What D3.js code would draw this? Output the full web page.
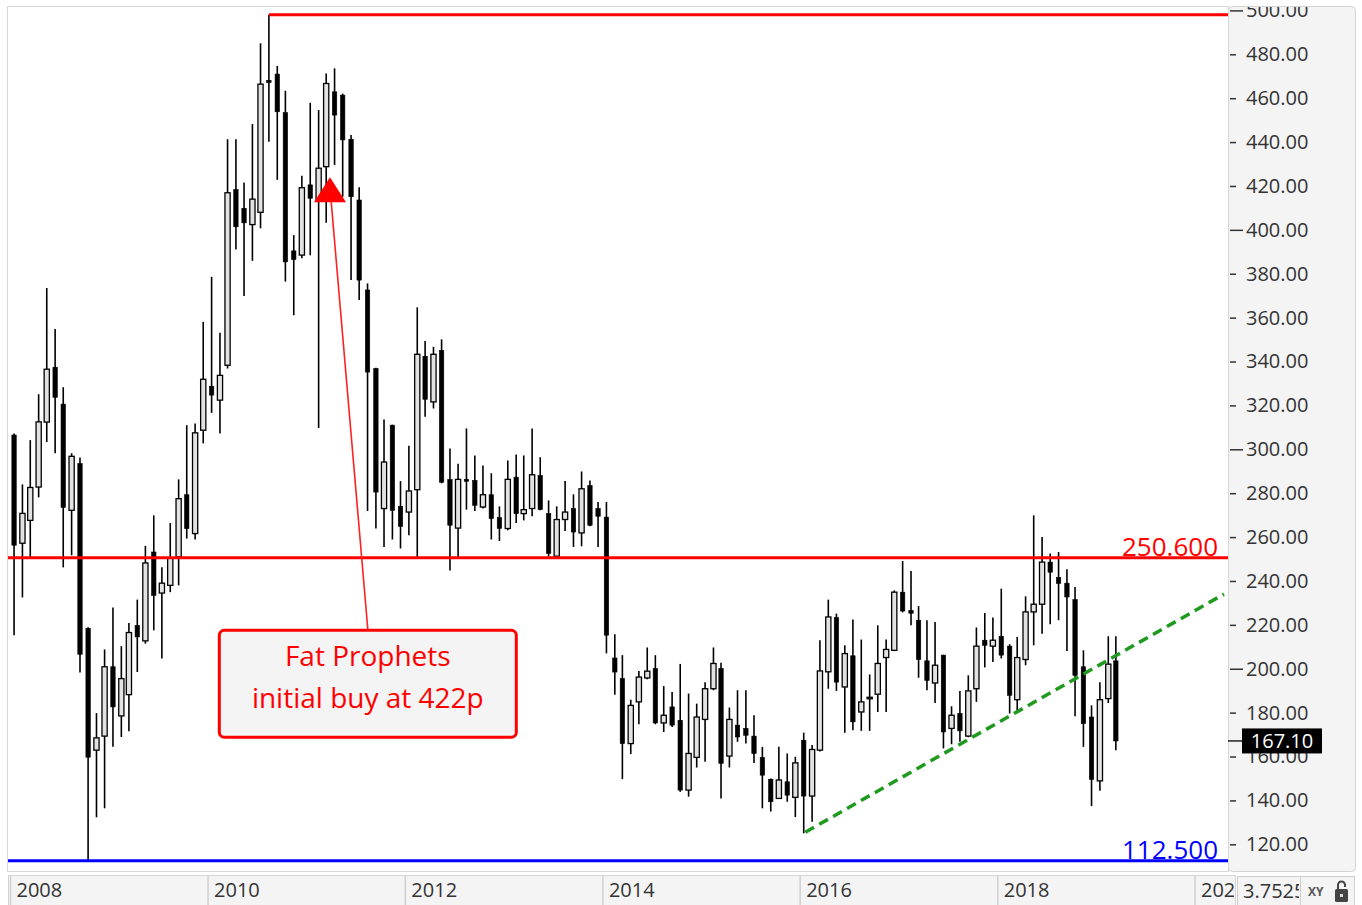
<!DOCTYPE html>
<html><head><meta charset="utf-8">
<script src="https://cdn.jsdelivr.net/npm/d3@7"></script>
<style>
html,body{margin:0;padding:0;background:#fff;}
svg{display:block;font-family:"Open Sans",sans-serif;}
</style></head><body>
<svg id="chart" width="1362" height="905"></svg>
<script>
// ---- data (monthly candles starting Jan 2008) ----
const firstYear = 2008, firstMonth = 0;
const opens = [
306.5,257.2,267.6,282.8,312.4,337.4,320.6,272.2,293.5,218.4,
162.9,169.3,200.9,178.5,188.2,219.8,212.7,253.2,234.5,238,
251,279.3,261.6,308.7,328.7,322.4,338.3,418.3,409.8,402.4,
408,468.1,471,453.4,390.4,388.5,420.5,413.6,428.8,462.9,
461.4,441.3,413.6,372.6,336.8,273,311,274,271.4,281.6,
342.4,321.6,345.1,286.3,264.1,286.3,285.8,273.7,279.3,268.9,
263.9,287.3,270.7,273,288.1,270.7,251.3,268,273,261.9,
283.5,273,269.1,204.9,195.5,165.9,184.9,195.8,200.1,175.3,
182.6,176.5,144.7,159.6,176.9,190.9,200.1,160.2,174.3,172.8,
169.3,159.6,149.6,140.9,148.5,141.4,167.4,142,162.9,198.6,
223.3,191.7,205.9,180.3,186.5,188.4,205.1,208.4,234.9,226.6,
222.1,203.6,193.5,206.2,172.8,179.6,169.3,190.9,213,210.3,
214.8,210.3,185.9,204.2,225.9,229.4,248.6,241.6,239,231.5,
200.9,178,148.9,186.4,203.6];
const highs = [
307.2,284,304.2,325.1,373.5,354.8,328.3,298.2,296.3,218.9,
179.8,208.8,227.9,210.3,220.9,231.5,256,269.9,246.3,266.4,
286.3,311,311.8,358.1,378.6,353.1,441.3,441.3,421.6,448.2,
485,498,474.7,463.4,397.6,424.7,457.9,454.6,471.3,473.6,
462.1,443.2,419.4,375.6,337.2,313.6,311.2,285.5,301.6,364.7,
349.4,346.7,350.1,300.4,293.4,309.5,297.2,292.6,289.1,274,
294.9,297.6,297.2,309.5,296.4,276.7,274,285.5,279.5,289.9,
285.8,276,276,215.7,206.2,185.9,199,209.7,206.2,192.1,
189.4,202.2,188.7,184.1,193.9,209.7,202.7,182.3,190.2,190.2,
178.8,164.4,150,164.4,161.4,159.9,170.9,165.2,213,231.5,
225.1,210.7,222.4,213.3,197.4,219.8,213.3,235.7,249.1,244.5,
228.6,222.1,221.3,206.4,182.9,189.9,197,218.8,225.4,223.3,
236.5,211.2,214.5,233,269.9,260,252.5,253.2,245.3,237.2,
208.4,183.3,193.9,214.8,214.8];
const lows = [
215.3,232.5,250.4,278.1,303.3,298.2,246.2,251.7,198.3,112.5,
132.3,136.4,164.4,168.9,171.5,198.5,211.4,217.5,204.7,234.9,
238,259.3,258.9,302.7,316.6,307.2,336.8,391.1,369.9,385.9,
400.7,440.2,422.8,376.4,361.1,387.1,388.4,309.7,403.2,429.6,
415.1,377.1,368,271.9,263.9,255.5,258.9,254.8,260.8,250.2,
314.8,318.6,284.5,244.8,250.2,272.5,271.9,273,258.9,258.2,
263.1,266.4,267.6,269.5,272.2,251,250.8,262.8,255.5,255.8,
264.9,255.5,207,188.2,149.7,161.1,174.7,195.2,174.7,171.2,
173.5,143.9,141.7,155,157.6,190.2,140.9,155,166.7,165.9,
157.1,136.4,134.9,140.6,139.4,132.4,125,130.3,162.3,190.9,
189.9,170.8,172,171.7,171.7,180.3,180.3,208,225.7,219.8,
195.9,190.2,184.4,163.7,165.6,166.7,168.8,184.9,200.6,203.1,
204.7,179.6,180.3,201.6,210.7,216,220.3,222.1,208.1,178.3,
164.4,137.4,144.4,184.4,162.9];
const closes = [
256.3,270.8,282.6,312.5,336.5,323.7,273.5,296.8,206.6,159.7,
168.5,200.9,182.6,195.5,216.5,214.5,248.2,233.4,239,250.4,
277.5,263.9,307.5,331.9,324.7,333.7,416.9,401.4,403.2,414,
466.4,467.1,453.8,385.4,386.5,419.2,414.4,428.1,466.7,452.3,
441,415.1,377.1,335.2,280.5,294.2,272.2,264.9,281,343.3,
322.8,343.3,285,265.4,286.3,285.4,274.5,279.3,268.4,263.9,
286.3,270.7,272.5,288.4,272.5,252.5,268,271.4,262.3,282,
265.4,269.5,215.3,198.5,165.9,183.3,196.2,198.9,175.3,178.8,
174.3,144.7,161.4,178,190.9,202.4,156.9,176.9,168.9,169.7,
161.4,151.5,139.4,149.3,142.4,157.1,142,163.2,199,223.6,
193.9,206.9,175.8,184.9,187,202.4,208.8,234.9,226.3,225.3,
204.2,194.7,201.6,171.2,178.8,171.7,189.9,210.3,210.7,213,
206.2,187.9,205.1,225.9,229.4,248.6,244,238.9,232.7,197,
175,149.6,185.9,202.1,167.1];

const yTicks = [120,140,160,180,200,220,240,260,280,300,320,340,360,380,400,420,440,460,480,500];
const yearTicks = [2008,2010,2012,2014,2016,2018,2020];
const lastPrice = 167.10;
const resistance = 250.6;
const support = 112.5;
const peakLevel = 498;
const trendPoints = [{date:"2016-01-22", value:125.5},{date:"2020-04-19", value:234}];
const noteLines = ["Fat Prophets","initial buy at 422p"];
const arrowTip = {date:"2011-03-30", value:424};
const noteAnchor = {date:"2011-08-17", value:218};
const zoomValue = "3.7525";

// ---- setup ----
const parse = d3.timeParse("%Y-%m-%d");
const svg = d3.select("#chart");
const P = {left:8, right:1228, top:8, bottom:870};
const x = d3.scaleTime().domain([new Date(2008,0,1), new Date(2020,0,1)]).range([10, 1194.5]);
const y = d3.scaleLinear().domain([120,480]).range([844.3,54.3]);

const candles = opens.map((o,i)=>({date:new Date(firstYear, firstMonth+i, 16), o, h:highs[i], l:lows[i], c:closes[i]}));

// backgrounds
svg.append("rect").attr("x",0).attr("y",0).attr("width",1362).attr("height",905).attr("fill","#fff");
svg.append("rect").attr("x",1228.5).attr("y",6.5).attr("width",127).attr("height",865)
  .attr("rx",4).attr("fill","#f4f4f4").attr("stroke","#d4d4d4");
svg.append("rect").attr("x",7.5).attr("y",6.5).attr("width",1221).attr("height",865)
  .attr("fill","#fff").attr("stroke","#d8d8d8");

const defs = svg.append("defs");
defs.append("clipPath").attr("id","plotclip").append("rect")
  .attr("x",P.left).attr("y",P.top).attr("width",P.right-P.left).attr("height",P.bottom-P.top);
defs.append("clipPath").attr("id","axisclip").append("rect")
  .attr("x",1229).attr("y",7).attr("width",127).attr("height",864);
defs.append("clipPath").attr("id","botclip").append("rect")
  .attr("x",8).attr("y",875).attr("width",1226).attr("height",30);
defs.append("clipPath").attr("id","zoomclip").append("rect")
  .attr("x",1238).attr("y",876).attr("width",61).attr("height",29);

const plot = svg.append("g").attr("clip-path","url(#plotclip)");

// candles
const cg = plot.append("g");
cg.selectAll("line.wick").data(candles).join("line").attr("class","wick")
  .attr("x1",d=>x(d.date)).attr("x2",d=>x(d.date))
  .attr("y1",d=>y(d.h)).attr("y2",d=>y(d.l))
  .attr("stroke","#000").attr("stroke-width",1.6);
cg.selectAll("rect.body").data(candles).join("rect").attr("class","body")
  .attr("x",d=>d.c>=d.o ? x(d.date)-2.6 : x(d.date)-2.2)
  .attr("width",d=>d.c>=d.o ? 5.2 : 4.4)
  .attr("y",d=>y(Math.max(d.o,d.c)))
  .attr("height",d=>Math.max(1.5, Math.abs(y(d.o)-y(d.c))))
  .attr("fill",d=>d.c>=d.o ? "#e2e2e2" : "#000")
  .attr("stroke","#000").attr("stroke-width",d=>d.c>=d.o?1.3:0.6);

// horizontal levels
plot.append("line").attr("x1",P.left).attr("x2",P.right).attr("y1",y(resistance)).attr("y2",y(resistance))
  .attr("stroke","#ff0000").attr("stroke-width",3);
plot.append("line").attr("x1",P.left).attr("x2",P.right).attr("y1",y(support)).attr("y2",y(support))
  .attr("stroke","#0000ff").attr("stroke-width",3);
const peakIdx = d3.maxIndex(highs);
plot.append("line").attr("x1",x(candles[peakIdx].date)).attr("x2",P.right)
  .attr("y1",y(peakLevel)).attr("y2",y(peakLevel)).attr("stroke","#ff0000").attr("stroke-width",3);

plot.append("text").attr("x",1218).attr("y",y(resistance)-2).attr("text-anchor","end")
  .attr("font-size",26).attr("fill","#ff0000").text(d3.format(".3f")(resistance));
plot.append("text").attr("x",1218).attr("y",y(support)-2).attr("text-anchor","end")
  .attr("font-size",26).attr("fill","#0000ff").text(d3.format(".3f")(support));

// trend line
const tp = trendPoints.map(p=>[x(parse(p.date)), y(p.value)]);
plot.append("path").attr("d",d3.line()(tp)).attr("stroke","#1f9a1f").attr("stroke-width",3.5)
  .attr("stroke-dasharray","10,6").attr("fill","none");

// annotation
const ax = x(parse(arrowTip.date)), ay = y(arrowTip.value);
const bx = x(parse(noteAnchor.date)), by = y(noteAnchor.value);
plot.append("line").attr("x1",bx).attr("y1",by).attr("x2",ax+1).attr("y2",ay+22)
  .attr("stroke","#ff2020").attr("stroke-width",1.6);
plot.append("path").attr("d",`M${ax},${ay} L${ax+16},${ay+25} L${ax-16},${ay+25} Z`).attr("fill","#ff0000");
plot.append("rect").attr("x",bx-148.5).attr("y",by+1).attr("width",297).attr("height",107).attr("rx",5)
  .attr("fill","#f4f4f4").attr("stroke","#ff0000").attr("stroke-width",3);
noteLines.forEach((t,i)=>{
  plot.append("text").attr("x",bx).attr("y",by+37+i*42).attr("text-anchor","middle")
    .attr("font-size",28).attr("fill","#ff0000").text(t);
});

// right axis (outer g clips in page coords, inner g is translated)
const yAxis = d3.axisRight(y).tickValues(yTicks).tickFormat(d3.format(".2f")).tickSize(6).tickPadding(11);
const ya = svg.append("g").attr("clip-path","url(#axisclip)")
  .append("g").attr("transform","translate(1230,0)").call(yAxis);
ya.select(".domain").remove();
ya.selectAll(".tick line").attr("stroke","#333").attr("stroke-width",1.5)
  .attr("x2",d=>d%100===0?13:6);
ya.selectAll(".tick text").attr("font-size",20).attr("fill","#333")
  .attr("font-family","'Open Sans',sans-serif").attr("x",16);

// last price marker
svg.append("line").attr("x1",1228).attr("x2",1242).attr("y1",y(lastPrice)).attr("y2",y(lastPrice))
  .attr("stroke","#222").attr("stroke-width",1.5);
svg.append("rect").attr("x",1242).attr("y",y(lastPrice)-12.5).attr("width",80).attr("height",25).attr("fill","#000");
svg.append("text").attr("x",1282).attr("y",y(lastPrice)+7).attr("text-anchor","middle")
  .attr("font-size",20).attr("fill","#fff").text(d3.format(".2f")(lastPrice));

// bottom axis
svg.append("rect").attr("x",8.5).attr("y",875.5).attr("width",1227).attr("height",30)
  .attr("fill","#f4f4f4").attr("stroke","#d4d4d4");
const xAxis = d3.axisBottom(x).tickValues(yearTicks.map(yr=>new Date(yr,0,1)))
  .tickFormat(d3.timeFormat("%Y")).tickSize(30).tickPadding(0);
const xa = svg.append("g").attr("clip-path","url(#botclip)")
  .append("g").attr("transform","translate(0,875)").call(xAxis);
xa.select(".domain").remove();
xa.selectAll(".tick line").attr("stroke","#d0d0d0").attr("stroke-width",1.5);
xa.selectAll(".tick text").attr("font-size",20).attr("fill","#333").attr("text-anchor","start")
  .attr("x",6).attr("y",22).attr("dy",0).attr("font-family","'Open Sans',sans-serif");

// bottom-right widgets
svg.append("rect").attr("x",1237.5).attr("y",876.5).attr("width",63).attr("height",30)
  .attr("fill","#f4f4f4").attr("stroke","#cfcfcf");
svg.append("text").attr("x",1243).attr("y",898).attr("font-size",20).attr("fill","#333")
  .attr("clip-path","url(#zoomclip)").text(zoomValue);
svg.append("rect").attr("x",1300.5).attr("y",876.5).attr("width",54).attr("height",30)
  .attr("fill","#f4f4f4").attr("stroke","#cfcfcf");
svg.append("text").attr("x",1308).attr("y",896).attr("font-size",12).attr("font-weight","bold")
  .attr("fill","#555").text("XY");
svg.append("rect").attr("x",1335).attr("y",889).attr("width",13).attr("height",13).attr("rx",1.5).attr("fill","#444");
svg.append("path").attr("d","M1338,889 V885 A3.5,3.5 0 0 1 1345,885 V887").attr("fill","none")
  .attr("stroke","#444").attr("stroke-width",2);
svg.append("rect").attr("x",1340).attr("y",894).attr("width",3).attr("height",3).attr("fill","#ddd");
</script>
</body></html>
